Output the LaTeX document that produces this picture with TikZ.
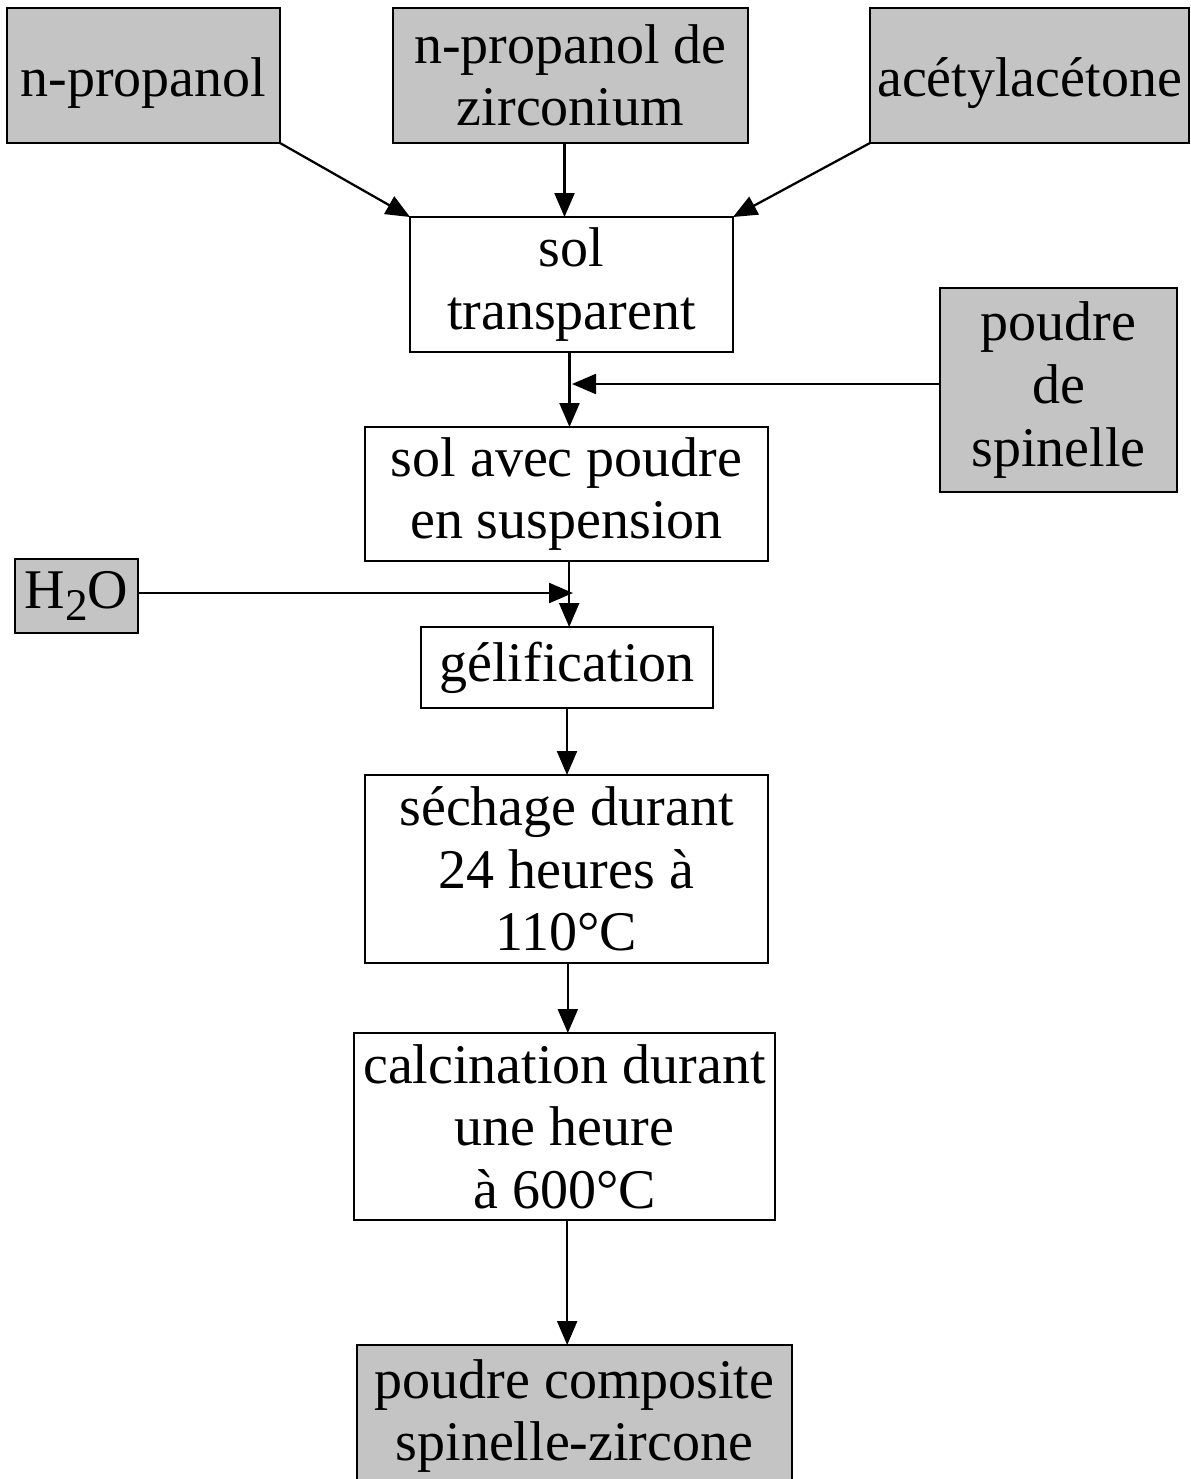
\documentclass[tikz,border=0pt]{standalone}
\usepackage{fontspec}
\setmainfont{Liberation Serif}
\usetikzlibrary{arrows.meta}
\definecolor{boxgray}{RGB}{196,196,196}
\begin{document}
\begin{tikzpicture}[x=0.75pt,y=-0.75pt,
  box/.style={draw, line width=1.7pt, inner sep=0pt, outer sep=0pt, align=center,
              font=\fontsize{42}{47}\selectfont},
  gbox/.style={box, fill=boxgray, line width=2.1pt},
  lowtext/.style={text height=35pt, text depth=4pt},
  arr/.style={line width=1.7pt, -{Triangle[length=18pt,width=15pt]}},
  ]
\useasboundingbox (0,0) rectangle (1190,1479);
\clip (0,0) rectangle (1190,1479);
\fill[white] (0,0) rectangle (1190,1479);

% raw materials
\node[gbox, lowtext, minimum width=204.75pt, minimum height=101.25pt] (np) at (143.5,75.5) {n-propanol};
\node[gbox, minimum width=266.25pt, minimum height=101.25pt] (zr) at (570.5,75.5) {n-propanol de\\zirconium};
\node[gbox, lowtext, minimum width=239.25pt, minimum height=101.25pt] (ac) at (1029.5,75.5) {acétylacétone};
\node[gbox, minimum width=177.75pt, minimum height=153pt] (ps) at (1058.5,390) {poudre\\de\\spinelle};
\node[gbox, minimum width=92.25pt, minimum height=55.5pt] (h2o) at (76.5,596)
  {H\raisebox{-9pt}{\fontsize{34}{34}\selectfont 2}O};

% process steps
\node[box, minimum width=242.25pt, minimum height=101.25pt] (st) at (571.5,284.5) {sol\\transparent};
\node[box, minimum width=302.25pt, minimum height=100.5pt] (sa) at (566.5,494) {sol avec poudre\\en suspension};
\node[box, minimum width=219pt, minimum height=60.75pt] (gel) at (567,667.5) {gélification};
\node[box, minimum width=302.25pt, minimum height=141pt] (sec) at (566.5,869) {séchage durant\\24 heures à\\110°C};
\node[box, minimum width=315.75pt, minimum height=140.25pt] (cal) at (564.5,1126.5) {calcination durant\\une heure\hspace*{0.6em}\\à 600°C};
\node[gbox, minimum width=326.25pt, minimum height=106.5pt] (pc) at (574.5,1416) {poudre composite\\spinelle-zircone};

% junction points
\coordinate (j1) at (572,384);
\coordinate (j2) at (573,593);

% connectors
\draw[arr] (np.south east) -- (st.north west);
\draw[arr] ([xshift=-4.5pt]zr.south) -- ([xshift=-4.5pt]zr.south |- st.north);
\draw[arr] (ac.south west) -- (st.north east);
\draw[arr] ([xshift=-1.5pt]st.south) -- ([xshift=-1.5pt]st.south |- sa.north);
\draw[arr] (ps.west |- j1) -- (j1);
\draw[arr] ([xshift=2pt]sa.south) -- ([xshift=2pt]sa.south |- gel.north);
\draw[arr] (h2o.east |- j2) -- (j2);
\draw[arr] (gel.south) -- (gel.south |- sec.north);
\draw[arr] ([xshift=1pt]sec.south) -- ([xshift=1pt]sec.south |- cal.north);
\draw[arr] ([xshift=2pt]cal.south) -- ([xshift=2pt]cal.south |- pc.north);
\end{tikzpicture}
\end{document}
